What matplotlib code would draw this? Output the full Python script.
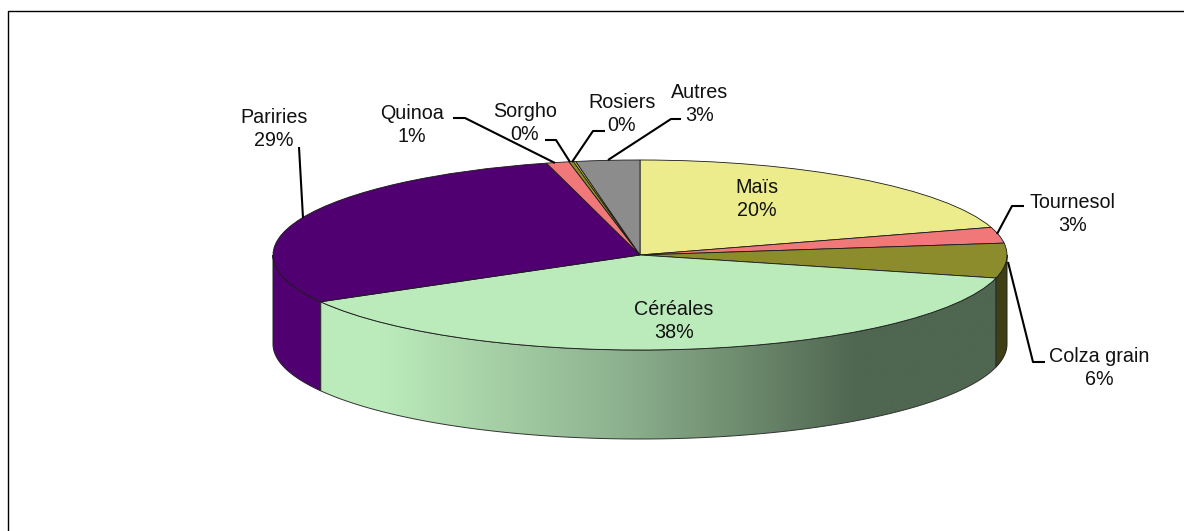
import numpy as np
import matplotlib
matplotlib.use('Agg')
import matplotlib.pyplot as plt
from matplotlib.colors import LinearSegmentedColormap
from matplotlib.patches import Polygon
from matplotlib.transforms import Affine2D

labels = ['Maïs', 'Tournesol', 'Colza grain', 'Céréales', 'Pariries',
          'Quinoa', 'Sorgho', 'Rosiers', 'Autres']
values = [20.3, 2.7, 5.9, 37.9, 29.1, 1.0, 0.2, 0.1, 2.8]
percents = ['20%', '3%', '6%', '38%', '29%', '1%', '0%', '0%', '3%']
colors = ['#ECEC8C', '#F07878', '#8C8C2C', '#BBEBBB', '#500070',
          '#F07878', '#8C8C2C', '#D8D820', '#8C8C8C']
wall_colors = {'Colza grain': '#3F3F14', 'Pariries': '#500070'}

# label centres and leader lines, in picture pixels
label_pos = {'Maïs': (757, 199), 'Tournesol': (1073, 214), 'Colza grain': (1099, 368),
             'Céréales': (674, 321), 'Pariries': (274, 129), 'Quinoa': (412, 125),
             'Sorgho': (525, 123), 'Rosiers': (622, 114), 'Autres': (700, 104)}
leaders = [[(299, 147), (303, 218)],
           [(453, 118), (465, 118), (555, 163)],
           [(545, 140), (556, 140), (570, 162)],
           [(605, 131), (593, 131), (572, 162)],
           [(681, 119), (671, 119), (608, 160)],
           [(1024, 206), (1012, 206), (997, 234)],
           [(1045, 362), (1033, 362), (1008, 262)]]

W, H = 1184, 531
cx, cy = 640, H - 255
rx, ry = 367, 95
depth = 89

plt.rcParams['font.family'] = ['Liberation Sans', 'DejaVu Sans']
fig = plt.figure(figsize=(W / 100, H / 100), dpi=100)
ax = fig.add_axes([0, 0, 1, 1])


def rim(a0, a1, n=120):
    t = np.radians(np.linspace(a0, a1, n))
    return cx + rx * np.cos(t), cy + ry * np.sin(t)


# angles run clockwise from the top of the pie
edges = 90 - 3.6 * np.cumsum([0] + values)

# side walls of the disc, only the part facing the viewer
for i, name in enumerate(labels):
    a0, a1 = edges[i], edges[i + 1]
    lo = max(a1, -180)
    hi = min(a0, 0)
    if lo >= hi:
        continue
    x, y = rim(hi, lo)
    xy = np.vstack([np.column_stack([x, y]), np.column_stack([x[::-1], y[::-1] - depth])])
    if name == 'Céréales':
        cmap = LinearSegmentedColormap.from_list(
            'wall', [(0, '#BBEBBB'), (0.09, '#BBEBBB'), (0.45, '#8CB08D'), (0.79, '#4F6650'), (1, '#4F6650')])
        grad = np.linspace(0, 1, 256).reshape(1, -1)
        poly = Polygon(xy, closed=True, facecolor='none', edgecolor='#333333', lw=0.7, zorder=2)
        ax.add_patch(poly)
        im = ax.imshow(grad, cmap=cmap, extent=(320, 1000, 0, H), aspect='auto', zorder=1)
        im.set_clip_path(poly)
    elif name in wall_colors:
        ax.add_patch(Polygon(xy, closed=True, facecolor=wall_colors[name], edgecolor='#222222', lw=0.7, zorder=1.5))

# top of the disc, a normal pie squashed into an ellipse
wedges, _ = ax.pie(values, colors=colors, startangle=90, counterclock=False,
                   radius=rx, center=(cx, cy), frame=True,
                   wedgeprops={'edgecolor': '#1a1a1a', 'linewidth': 0.6})
squash = Affine2D().translate(-cx, -cy).scale(1, ry / rx).translate(cx, cy)
for w in wedges:
    w.set_transform(squash + ax.transData)
    w.set_zorder(3)

for name, pct in zip(labels, percents):
    px, py = label_pos[name]
    ax.text(px, H - py, name + '\n' + pct, ha='center', va='center', fontsize=14.2,
            linespacing=1.27, color='#111111', zorder=5)

for pts in leaders:
    xs = [p[0] for p in pts]
    ys = [H - p[1] for p in pts]
    ax.plot(xs, ys, color='black', lw=1.5, solid_capstyle='butt', zorder=4)

# chart frame, cut off by the picture on the right and at the bottom
ax.plot([8, 8, W], [0, H - 11, H - 11], color='black', lw=1.0, zorder=6)

ax.set_xlim(0, W)
ax.set_ylim(0, H)
ax.set_aspect('auto')
ax.axis('off')
fig.savefig('out.png', dpi=100)
